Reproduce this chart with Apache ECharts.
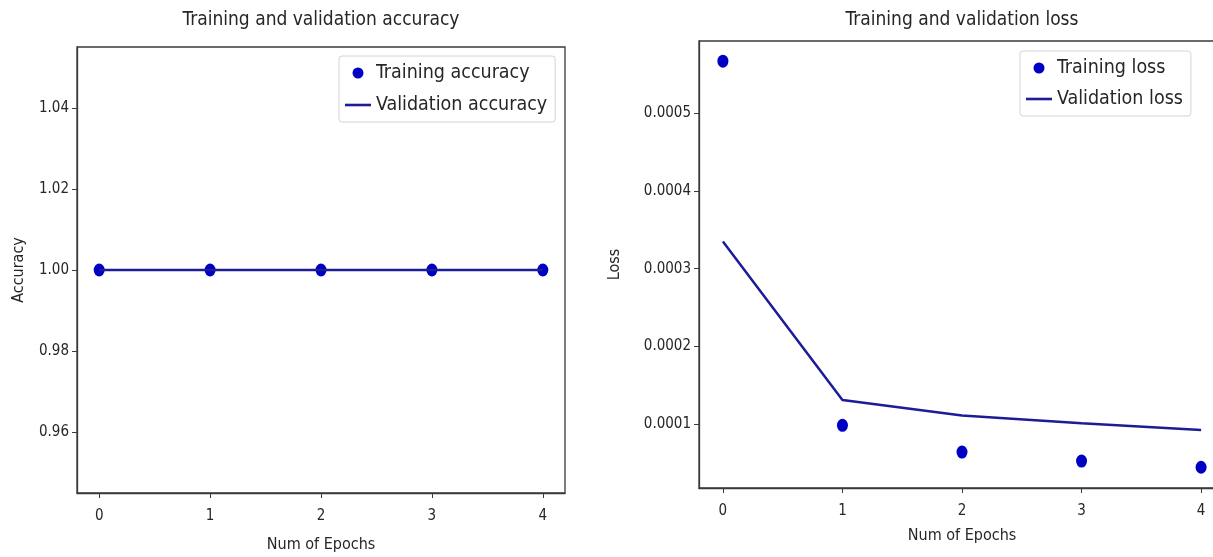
<!DOCTYPE html>
<html>
<head>
<meta charset="utf-8">
<script src="https://cdn.jsdelivr.net/npm/echarts@6/dist/echarts.min.js"></script>
<style>
html,body{margin:0;padding:0;background:#fff;}
#chart{width:1213px;height:557px;}
</style>
</head>
<body>
<div id="chart"></div>
<script>
const epochs = [0, 1, 2, 3, 4];
const trainAcc = [1.0, 1.0, 1.0, 1.0, 1.0];
const valAcc = [1.0, 1.0, 1.0, 1.0, 1.0];
const trainLoss = [0.000567, 0.0000985, 0.000064, 0.0000525, 0.0000445];
const valLoss = [0.000335, 0.000131, 0.000111, 0.000101, 0.0000925];
const xTicks = [0, 1, 2, 3, 4];
const accTicks = [0.96, 0.98, 1.00, 1.02, 1.04];
const lossTicks = [0.0001, 0.0002, 0.0003, 0.0004, 0.0005];

const FONT = "'DejaVu Sans Condensed', 'DejaVu Sans', sans-serif";
const DOT = '#0000c4';
const LINE = '#1c1c96';
const AXIS = '#3a3a3a';
const TXT = '#262626';
const pair = (xs, ys) => xs.map((x, i) => [x, ys[i]]);
const LINE_ICON = 'path://M0,0 L26,0 L26,2.6 L0,2.6 Z';

function xAxisCfg(gridIndex, gap) {
  return {
    type: 'value', gridIndex, min: -0.2, max: 4.2,
    name: 'Num of Epochs', nameLocation: 'middle', nameGap: gap,
    nameTextStyle: {fontFamily: FONT, fontSize: 16, color: TXT},
    axisLine: {show: true, onZero: false, lineStyle: {color: AXIS, width: 1.3}},
    axisTick: {show: true, inside: false, length: 5, customValues: xTicks, lineStyle: {color: AXIS}},
    axisLabel: {customValues: xTicks, fontFamily: FONT, fontSize: 15, color: TXT, margin: 16,
      formatter: v => String(Math.round(v))},
    splitLine: {show: false}
  };
}
function yAxisCfg(gridIndex, name, gap, mn, mx, ticks, dec) {
  return {
    type: 'value', gridIndex, min: mn, max: mx,
    name, nameLocation: 'middle', nameGap: gap,
    nameTextStyle: {fontFamily: FONT, fontSize: 16, color: TXT},
    axisLine: {show: true, onZero: false, lineStyle: {color: AXIS, width: 1.3}},
    axisTick: {show: true, inside: false, length: 5, customValues: ticks, lineStyle: {color: AXIS}},
    axisLabel: {customValues: ticks, fontFamily: FONT, fontSize: 15, color: TXT, margin: 8,
      formatter: v => Number(v).toFixed(dec)},
    splitLine: {show: false}
  };
}

const chart = echarts.init(document.getElementById('chart'), null, {renderer: 'canvas'});
chart.setOption({
  animation: false,
  backgroundColor: '#fff',
  grid: [
    {left: 77, top: 47, width: 488, height: 446, show: true, borderColor: AXIS, borderWidth: 1.3,
      backgroundColor: 'transparent', outerBoundsMode: 'none', containLabel: false},
    {left: 699, top: 41, width: 526, height: 447, show: true, borderColor: AXIS, borderWidth: 1.3,
      backgroundColor: 'transparent', outerBoundsMode: 'none', containLabel: false}
  ],
  graphic: [
    {type: 'text', x: 321, y: 11, style: {text: 'Training and validation accuracy', font: '19px ' + FONT, fill: TXT, textAlign: 'center'}},
    {type: 'text', x: 962, y: 11, style: {text: 'Training and validation loss', font: '19px ' + FONT, fill: TXT, textAlign: 'center'}}
  ],
  xAxis: [xAxisCfg(0, 44), xAxisCfg(1, 40)],
  yAxis: [
    yAxisCfg(0, 'Accuracy', 50, 0.945, 1.055, accTicks, 2),
    yAxisCfg(1, 'Loss', 76, 0.0000178, 0.000593, lossTicks, 4)
  ],
  legend: [
    {
      data: [{name: 'Training accuracy', icon: 'circle'}, {name: 'Validation accuracy', icon: LINE_ICON}],
      orient: 'vertical',
      left: 339, top: 56, itemWidth: 26, itemHeight: 11, itemGap: 12,
      padding: [7, 8, 7, 6], borderColor: '#d4d4d4', borderWidth: 1, borderRadius: 3,
      backgroundColor: 'rgba(255,255,255,0.8)',
      textStyle: {fontFamily: FONT, fontSize: 19.5, color: TXT}
    },
    {
      data: [{name: 'Training loss', icon: 'circle'}, {name: 'Validation loss', icon: LINE_ICON}],
      orient: 'vertical',
      left: 1020, top: 51, itemWidth: 26, itemHeight: 11, itemGap: 11,
      padding: [7, 8, 7, 6], borderColor: '#d4d4d4', borderWidth: 1, borderRadius: 3,
      backgroundColor: 'rgba(255,255,255,0.8)',
      textStyle: {fontFamily: FONT, fontSize: 19.5, color: TXT}
    }
  ],
  series: [
    {name: 'Training accuracy', type: 'scatter', xAxisIndex: 0, yAxisIndex: 0,
      symbol: 'circle', symbolSize: [11, 13], itemStyle: {color: DOT, opacity: 1}, data: pair(epochs, trainAcc), z: 3},
    {name: 'Validation accuracy', type: 'line', xAxisIndex: 0, yAxisIndex: 0,
      symbol: 'none', lineStyle: {color: LINE, width: 2.5}, itemStyle: {color: LINE}, data: pair(epochs, valAcc), z: 4},
    {name: 'Training loss', type: 'scatter', xAxisIndex: 1, yAxisIndex: 1,
      symbol: 'circle', symbolSize: [11, 13], itemStyle: {color: DOT, opacity: 1}, data: pair(epochs, trainLoss), z: 3},
    {name: 'Validation loss', type: 'line', xAxisIndex: 1, yAxisIndex: 1,
      symbol: 'none', lineStyle: {color: LINE, width: 2.5}, itemStyle: {color: LINE}, data: pair(epochs, valLoss), z: 4}
  ]
});
</script>
</body>
</html>
